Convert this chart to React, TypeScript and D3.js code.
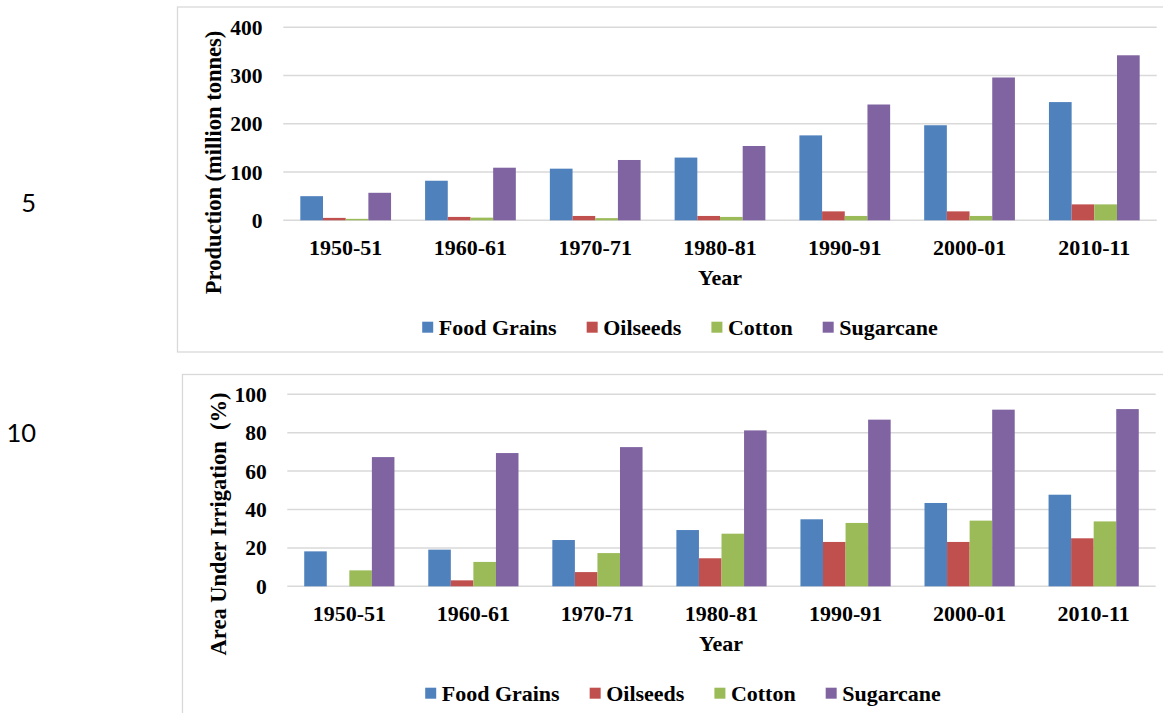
import React, { useEffect, useRef } from "react";
import * as d3 from "d3";

const categories = ["1950-51", "1960-61", "1970-71", "1980-81", "1990-91", "2000-01", "2010-11"];
const seriesNames = ["Food Grains", "Oilseeds", "Cotton", "Sugarcane"];
const seriesColors = ["#4F81BD", "#C0504D", "#9BBB59", "#8064A2"];

// Production (million tonnes)
const prodFoodGrains = [50, 82, 107, 130, 176, 197, 245];
const prodOilseeds = [5, 7, 9, 9, 18.5, 18.5, 33];
const prodCotton = [3, 5.5, 4.5, 7, 9, 9, 33];
const prodSugarcane = [57, 109, 125, 154, 240, 296, 342];
const prodTicks = [0, 100, 200, 300, 400];

// Area under irrigation (%)
const irrFoodGrains = [18.2, 19.1, 24.1, 29.3, 34.9, 43.4, 47.7];
const irrOilseeds = [0, 3.1, 7.4, 14.6, 23.1, 23.1, 25];
const irrCotton = [8.3, 12.7, 17.3, 27.4, 33, 34.2, 33.8];
const irrSugarcane = [67.3, 69.4, 72.5, 81.2, 86.8, 92, 92.3];
const irrTicks = [0, 20, 40, 60, 80, 100];

const SERIF = "'Liberation Serif', 'Times New Roman', serif";

type ChartCfg = {
  series: number[][];
  ticks: number[];
  yMax: number;
  frame: { x: number; y: number; w: number; h: number };
  plot: { x0: number; x1: number; y0: number; y1: number };
  tickRight: number;
  yTitle: string;
  yTitleX: number;
  yTitleY: number;
  catBaseline: number;
  xTitleX: number;
  xTitleBaseline: number;
  legendCenter: number;
  legendMid: number;
};

function drawChart(svg: d3.Selection<SVGSVGElement, unknown, null, undefined>, cfg: ChartCfg) {
  const g = svg.append("g");
  g.append("rect")
    .attr("x", cfg.frame.x)
    .attr("y", cfg.frame.y)
    .attr("width", cfg.frame.w)
    .attr("height", cfg.frame.h)
    .attr("fill", "#fff")
    .attr("stroke", "#d9d9d9")
    .attr("stroke-width", 1.3);

  const x0 = d3
    .scaleBand<string>()
    .domain(categories)
    .range([cfg.plot.x0, cfg.plot.x1])
    .paddingInner(1.5 / 5.5)
    .paddingOuter(0.75 / 5.5);
  const x1 = d3.scaleBand<string>().domain(seriesNames).range([0, x0.bandwidth()]).padding(0);
  const y = d3.scaleLinear().domain([0, cfg.yMax]).range([cfg.plot.y0, cfg.plot.y1]);

  // gridlines
  g.selectAll("line.grid")
    .data(cfg.ticks)
    .enter()
    .append("line")
    .attr("x1", cfg.plot.x0)
    .attr("x2", cfg.plot.x1)
    .attr("y1", (d) => y(d))
    .attr("y2", (d) => y(d))
    .attr("stroke", "#d9d9d9")
    .attr("stroke-width", 1.5);

  // y tick labels
  g.selectAll("text.ytick")
    .data(cfg.ticks)
    .enter()
    .append("text")
    .attr("x", cfg.tickRight)
    .attr("y", (d) => y(d))
    .attr("dy", "0.35em")
    .attr("text-anchor", "end")
    .attr("font-family", SERIF)
    .attr("font-weight", "bold")
    .attr("font-size", 21.5)
    .attr("fill", "#000")
    .text((d) => String(d));

  // bars
  cfg.series.forEach((vals, si) => {
    g.selectAll(`rect.s${si}`)
      .data(vals)
      .enter()
      .append("rect")
      .attr("x", (_d, i) => (x0(categories[i]) as number) + (x1(seriesNames[si]) as number))
      .attr("y", (d) => y(d))
      .attr("width", x1.bandwidth())
      .attr("height", (d) => y(0) - y(d))
      .attr("fill", seriesColors[si]);
  });

  // category labels
  g.selectAll("text.cat")
    .data(categories)
    .enter()
    .append("text")
    .attr("x", (d) => (x0(d) as number) + x0.bandwidth() / 2)
    .attr("y", cfg.catBaseline)
    .attr("text-anchor", "middle")
    .attr("font-family", SERIF)
    .attr("font-weight", "bold")
    .attr("font-size", 22)
    .attr("fill", "#000")
    .text((d) => d);

  // x title
  g.append("text")
    .attr("x", cfg.xTitleX)
    .attr("y", cfg.xTitleBaseline)
    .attr("text-anchor", "middle")
    .attr("font-family", SERIF)
    .attr("font-weight", "bold")
    .attr("font-size", 22)
    .attr("fill", "#000")
    .text("Year");

  // y title
  g.append("text")
    .attr("transform", `translate(${cfg.yTitleX},${cfg.yTitleY}) rotate(-90)`)
    .attr("text-anchor", "middle")
    .attr("font-family", SERIF)
    .attr("font-weight", "bold")
    .attr("font-size", 22.5)
    .attr("fill", "#000")
    .style("white-space", "pre")
    .text(cfg.yTitle);

  // legend
  const lg = g.append("g");
  const sq = 11;
  const gapText = 5.5;
  const gapItem = 30;
  const items = seriesNames.map((name, i) => {
    const ig = lg.append("g");
    ig.append("rect")
      .attr("x", 0)
      .attr("y", cfg.legendMid - sq / 2)
      .attr("width", sq)
      .attr("height", sq)
      .attr("fill", seriesColors[i]);
    const t = ig
      .append("text")
      .attr("x", sq + gapText)
      .attr("y", cfg.legendMid + 7.3)
      .attr("font-family", SERIF)
      .attr("font-weight", "bold")
      .attr("font-size", 22)
      .attr("fill", "#000")
      .text(name);
    const w = (t.node() as SVGTextElement).getComputedTextLength();
    return { ig, w: sq + gapText + w };
  });
  const total = d3.sum(items, (d) => d.w) + gapItem * (items.length - 1);
  let cx = cfg.legendCenter - total / 2;
  items.forEach((it) => {
    it.ig.attr("transform", `translate(${cx},0)`);
    cx += it.w + gapItem;
  });
}

export default function App() {
  const ref = useRef<SVGSVGElement>(null);
  useEffect(() => {
    if (!ref.current) return;
    const svg = d3.select(ref.current);
    svg.selectAll("*").remove();

    svg.append("rect").attr("x", 0).attr("y", 0).attr("width", 1163).attr("height", 713).attr("fill", "#fff");

    // line numbers
    svg
      .append("text")
      .attr("x", 36)
      .attr("y", 211.5)
      .attr("text-anchor", "end")
      .attr("font-family", "Lato, 'Open Sans', sans-serif")
      .attr("font-size", 25.5)
      .attr("fill", "#000")
      .text("5");
    svg
      .append("text")
      .attr("x", 36)
      .attr("y", 441.5)
      .attr("text-anchor", "end")
      .attr("font-family", "Lato, 'Open Sans', sans-serif")
      .attr("font-size", 25.5)
      .attr("fill", "#000")
      .text("10");

    drawChart(svg, {
      series: [prodFoodGrains, prodOilseeds, prodCotton, prodSugarcane],
      ticks: prodTicks,
      yMax: 400,
      frame: { x: 177.5, y: 7, w: 1100, h: 345 },
      plot: { x0: 283.3, x1: 1156.7, y0: 220.3, y1: 27.3 },
      tickRight: 262.5,
      yTitle: "Production (million tonnes)",
      yTitleX: 220.5,
      yTitleY: 162.5,
      catBaseline: 254.7,
      xTitleX: 720,
      xTitleBaseline: 285,
      legendCenter: 680,
      legendMid: 327.2,
    });

    drawChart(svg, {
      series: [irrFoodGrains, irrOilseeds, irrCotton, irrSugarcane],
      ticks: irrTicks,
      yMax: 100,
      frame: { x: 182.5, y: 374.5, w: 1100, h: 400 },
      plot: { x0: 287.3, x1: 1155.7, y0: 586.3, y1: 394.3 },
      tickRight: 266.7,
      yTitle: "Area Under Irrigation  (%)",
      yTitleX: 225.5,
      yTitleY: 524,
      catBaseline: 620.7,
      xTitleX: 721,
      xTitleBaseline: 651,
      legendCenter: 683,
      legendMid: 693.2,
    });
  }, []);

  return (
    <svg
      ref={ref}
      width={1163}
      height={713}
      style={{ position: "absolute", left: 0, top: 0, display: "block" }}
    />
  );
}
